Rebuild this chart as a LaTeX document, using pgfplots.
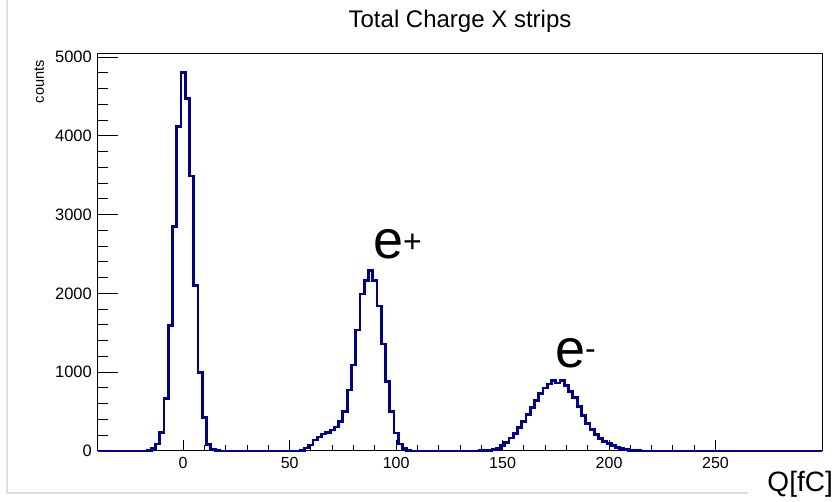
\documentclass[border=0pt]{standalone}
\usepackage{pgfplots}
\pgfplotsset{compat=1.18}
\usepackage{fontspec}
\setmainfont{Liberation Sans}
\definecolor{histblue}{RGB}{0,0,150}
\pgfplotstableread{
x y
-40 0
-18 0
-16 10
-14 30
-12 90
-10 230
-8 670
-6 1590
-4 2850
-2 4115
0 4810
2 4470
4 3490
6 2100
8 1000
10 430
12 80
14 25
16 8
18 0
54 0
56 10
58 38
60 76
62 140
64 178
66 215
68 232
70 266
72 304
74 372
76 499
78 774
80 1091
82 1536
84 1992
86 2161
88 2288
90 2161
92 1840
94 1358
96 880
98 499
100 228
102 90
104 35
106 10
108 0
138 0
140 3
142 6
144 10
146 18
148 35
150 65
152 110
154 165
156 225
158 295
160 375
162 460
164 550
166 640
168 730
170 800
172 850
174 890
176 862
178 890
180 830
182 760
184 680
186 560
188 450
190 345
192 270
194 210
196 160
198 120
200 95
202 65
204 45
206 30
208 18
210 10
212 5
214 2
216 0
300 0
}\histdata
\begin{document}
\begin{tikzpicture}[x=1bp,y=1bp]
\useasboundingbox (-98,-51) rectangle (736,451);
\draw[black!13, line width=1.5bp] (-91,451) -- (-91,-42) -- (650,-42);
% y axis ticks (longer ROOT-style ticks)
\begin{axis}[
  at={(0,0)}, anchor=south west,
  scale only axis, width=724bp, height=397bp,
  xmin=-40, xmax=300, ymin=0, ymax=5040,
  hide x axis, axis y line*=left,
  axis line style={line width=1bp},
  tick align=inside,
  ytick={0,1000,...,5000},
  minor y tick num=4,
  major tick length=20bp, minor tick length=10bp,
  tick style={line width=1bp, black},
  /pgf/number format/1000 sep={},
  /pgf/number format/assume math mode=true,
  yticklabel style={font=\fontsize{16.5bp}{19bp}\selectfont, inner sep=0pt, anchor=east, xshift=-6bp},
]
\end{axis}
\begin{axis}[
  at={(0,0)}, anchor=south west,
  scale only axis, width=724bp, height=397bp,
  xmin=-40, xmax=300, ymin=0, ymax=5040,
  clip=false,
  axis line style={line width=1bp},
  tick align=inside,
  xtick={0,50,...,250},
  minor x tick num=4,
  ytick=\empty,
  xtick pos=left,
  major tick length=11bp, minor tick length=5.5bp,
  tick style={line width=1bp, black},
  /pgf/number format/1000 sep={},
  /pgf/number format/assume math mode=true,
  xticklabel style={font=\fontsize{16bp}{19bp}\selectfont, inner sep=0pt, anchor=north, yshift=-6bp},
]
\addplot[const plot mark mid, histblue, line width=2.8bp] table[x=x,y=y] {\histdata};
\node[anchor=base, inner sep=0pt, font=\fontsize{24bp}{28bp}\selectfont] at (rel axis cs:0.5,1.0655) {Total Charge X strips};
\node[anchor=base east, rotate=90, inner sep=0pt, font=\fontsize{14.6bp}{17bp}\selectfont] at (rel axis cs:-0.0746,0.985) {counts};
\node[anchor=base east, inner sep=0pt, fill=white, font=\fontsize{28bp}{32bp}\selectfont] at (rel axis cs:1.0152,-0.1008) {Q[fC]};
\node[anchor=base west, inner sep=0pt] at (axis cs:89.1,2450) {{\fontsize{54bp}{54bp}\selectfont e}\raisebox{6bp}{\fontsize{32bp}{32bp}\selectfont +}};
\node[anchor=base west, inner sep=0pt] at (axis cs:174.6,1054) {{\fontsize{54bp}{54bp}\selectfont e}\raisebox{8bp}{\fontsize{32bp}{32bp}\selectfont -}};
\end{axis}
\end{tikzpicture}
\end{document}
